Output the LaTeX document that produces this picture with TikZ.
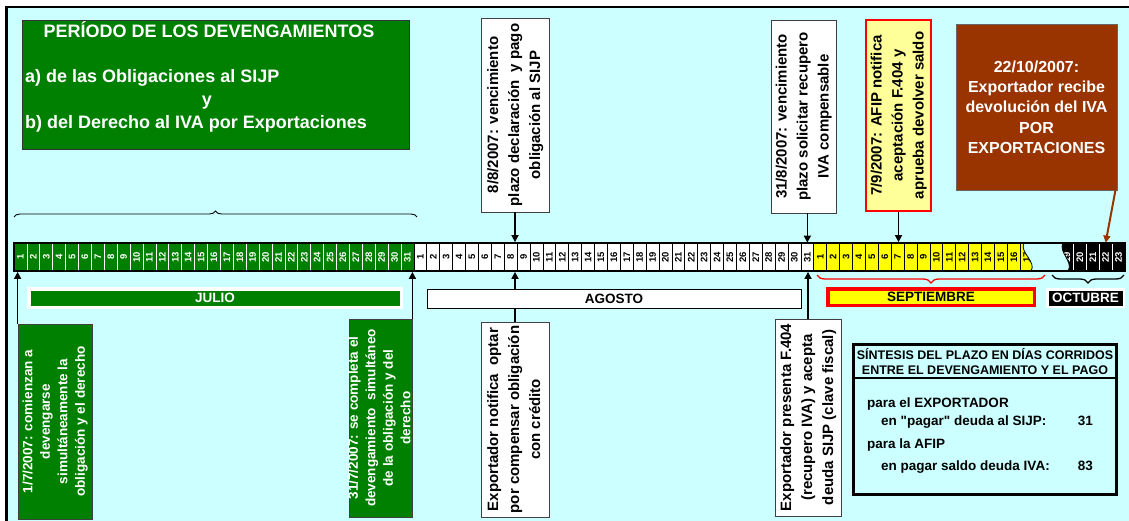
\documentclass[tikz,border=0pt]{standalone}
\usepackage{fontspec}
\setmainfont{Liberation Sans}
\usepackage{graphicx}
\usetikzlibrary{decorations.pathreplacing,arrows.meta,calc}
\definecolor{bgcyan}{HTML}{CCFFFF}
\definecolor{dgreen}{HTML}{008000}
\definecolor{lyellow}{HTML}{FFFF99}
\definecolor{brownbox}{HTML}{993300}
\definecolor{sepyellow}{HTML}{FFFF00}
\newcommand{\vtxt}[1]{\makebox[0pt]{\rotatebox{90}{\begin{tabular}{@{}c@{}}#1\end{tabular}}}}
\newcommand{\fsz}[2]{\fontsize{#1}{#2}\selectfont}
\newcommand{\sq}{\XeTeXglyph\XeTeXcharglyph"22\relax}
\tikzset{
  cellbase/.style={minimum width=12.9pt, minimum height=28pt, inner sep=0pt, line width=0.7pt, font=\fsz{9.5}{9.5}\bfseries},
  julcell/.style={cellbase, fill=dgreen, draw=white, text=white},
  augcell/.style={cellbase, fill=white, draw=black, text=black},
  sepcell/.style={cellbase, fill=sepyellow, draw=black, text=black},
  octcell/.style={cellbase, fill=black, draw=white, text=white},
  vbox/.style={inner sep=0pt, line width=0.8pt, font=\fsz{15}{21}\bfseries},
  gbox/.style={vbox, fill=dgreen, draw=black!75, text=white, font=\fsz{13.5}{17.5}\bfseries},
  wbox/.style={vbox, fill=white, draw=black!75},
  arr/.style={line width=1.6pt, -{Triangle[length=7pt,width=7pt]}},
  month/.style={inner sep=0pt, font=\fsz{13.5}{13.5}\bfseries},
  ttl/.style={inner sep=0pt, text=white, font=\fsz{18}{18}\bfseries},
  syn/.style={inner sep=0pt, font=\fsz{13.5}{13.5}\bfseries},
}
\begin{document}
\begin{tikzpicture}[x=1pt,y=-1pt]
\useasboundingbox (0,0) rectangle (1129,521);
\fill[white] (0,0) rectangle (1129,521);
\fill[bgcyan] (6.5,7) rectangle (1129,521);
\draw[line width=2.5pt] (6.5,521) -- (6.5,7) -- (1129,7);

% title box
\node[fill=dgreen, draw=black!80, line width=0.8pt, minimum width=387pt, minimum height=129pt, inner sep=0pt] (titlebox) at (215.5,84.5) {};
\node[ttl, anchor=base] (t1) at (209,38) {PERÍODO DE LOS DEVENGAMIENTOS};
\node[ttl, anchor=base west] (t2) at (25,83) {a) de las Obligaciones al SIJP};
\node[ttl, anchor=base] (t3) at (207,106) {y};
\node[ttl, anchor=base west] (t4) at (25,129) {b) del Derecho al IVA por Exportaciones};

% brace over July
\draw[decorate, decoration={brace, amplitude=6pt}, line width=0.9pt] (14,217) -- (417,217);

% timeline cells
\foreach \d in {1,...,31} {
  \node[julcell] (jul\d) at ({14+(\d-0.5)*12.9},257) {\rotatebox{90}{\d}};
}
\foreach \d in {1,...,31} {
  \node[augcell] (aug\d) at ({14+(31+\d-0.5)*12.9},257) {\rotatebox{90}{\d}};
}
\foreach \d in {1,...,17} {
  \node[sepcell] (sep\d) at ({14+(62+\d-0.5)*12.9},257) {\rotatebox{90}{\d}};
}
\foreach \d in {19,...,23} {
  \node[octcell] (oct\d) at ({1125-(23.5-\d)*12.9},257) {\rotatebox{90}{\d}};
}
% break in the timeline
\fill[bgcyan] (1024,243) .. controls (1019,252) and (1037,262) .. (1031,271) -- (1068,271) .. controls (1074,262) and (1058,252) .. (1063,243) -- cycle;
\draw[line width=0.8pt] (1024,243) .. controls (1019,252) and (1037,262) .. (1031,271);
\draw[line width=0.8pt] (1068,271) .. controls (1074,262) and (1058,252) .. (1063,243);
\node[draw, line width=1.8pt, minimum width=1111pt, minimum height=28pt, inner sep=0pt] (tl) at (569.5,257) {};

% braces below Sept / Oct
\draw[decorate, decoration={brace, amplitude=8pt}, red, line width=1.3pt] (1045,275) -- (817,275);
\draw[decorate, decoration={brace, amplitude=8pt}, line width=1.3pt] (1124,275) -- (1052,275);

% top boxes
\node[wbox, minimum width=68pt, minimum height=194pt] (b88) at (515,115) {\vtxt{8/8/2007: vencimiento\\plazo declaración\ \ y pago\\obligación al SIJP}};
\node[wbox, minimum width=65pt, minimum height=193pt] (b318) at (803.5,116.5) {\vtxt{31/8/2007: vencimiento\\plazo solicitar recupero\\IVA compensable}};
\node[vbox, fill=lyellow, draw=red, line width=2pt, minimum width=65pt, minimum height=191pt] (b79) at (898.5,115.5) {\vtxt{7/9/2007: AFIP notifica\\aceptación F.404 y\\aprueba devolver saldo}};
\node[fill=brownbox, draw=black!60, line width=0.8pt, minimum width=161pt, minimum height=166pt, inner sep=0pt, text=white, align=center, font=\fsz{16}{20.3}\bfseries] (brown) at (1036.5,107) {22/10/2007:\\Exportador recibe\\devolución del IVA\\POR\\EXPORTACIONES};

% bottom boxes
\node[gbox, minimum width=74pt, minimum height=195pt] (b17) at (55,421.5) {\vtxt{1/7/2007: comienzan a\\devengarse\\simultáneamente la\\obligación y el derecho}};
\node[gbox, minimum width=63pt, minimum height=198pt] (b317) at (380.5,418) {\vtxt{31/7/2007: se completa el\\devengamiento\ \ simultáneo\\de la obligación y del\\derecho}};
\node[wbox, minimum width=68pt, minimum height=195pt] (bexp1) at (515,419.5) {\vtxt{Exportador notifica\ \ optar\\por compensar obligación\\con crédito}};
\node[wbox, minimum width=66pt, minimum height=197pt] (bexp2) at (808,417.5) {\vtxt{Exportador presenta F.404\\(recupero IVA) y acepta\\deuda SIJP (clave fiscal)}};

% arrows
\draw[arr] (b88.south) -- (b88.south |- tl.north);
\draw[arr] (aug31.north |- b318.south) -- (aug31.north);
\draw[arr] (b79.south) -- (b79.south |- tl.north);
\draw[arr, draw=brownbox, fill=brownbox, line width=2pt] ([xshift=-2pt]brown.south east) -- (oct22.north);
\draw[arr] (b17.north west) -- (b17.north west |- tl.south);
\draw[arr] (b317.north east) -- (b317.north east |- tl.south);
\draw[arr] (bexp1.north) -- (bexp1.north |- tl.south);
\draw[arr] (bexp2.north) -- (bexp2.north |- tl.south);

% month labels
\node[month, fill=dgreen, draw=white, line width=3.5pt, minimum width=372.5pt, minimum height=18.5pt, text=white] (julio) at (215,298) {JULIO};
\node[month, fill=white, draw=black, line width=1pt, minimum width=374pt, minimum height=19pt] (agosto) at (614,298.5) {AGOSTO};
\node[month, fill=sepyellow, draw=red, line width=3.5pt, minimum width=206.5pt, minimum height=16.5pt] (septiembre) at (931,297) {SEPTIEMBRE};
\node[month, fill=black, draw=white, line width=2.5pt, minimum width=76.5pt, minimum height=17.5pt, text=white] (octubre) at (1085.5,298) {OCTUBRE};

% synthesis box
\node[draw, line width=3pt, minimum width=263pt, minimum height=150pt, inner sep=0pt] (synth) at (985,419.5) {};
\draw[line width=1.2pt] (synth.west |- 0,378) -- (synth.east |- 0,378);
\node[inner sep=0pt, align=center, font=\fsz{12.5}{15}\bfseries] (sh) at (985,361.5) {SÍNTESIS DEL PLAZO EN DÍAS CORRIDOS\\ENTRE EL DEVENGAMIENTO Y EL PAGO};
\node[syn, anchor=base west] (s1) at (867,407) {para el EXPORTADOR};
\node[syn, anchor=base west] (s2) at (881,425) {en \sq pagar\sq{} deuda al SIJP:};
\node[syn, anchor=base east] (s3) at (1093,425) {31};
\node[syn, anchor=base west] (s4) at (867,448) {para la AFIP};
\node[syn, anchor=base west] (s5) at (881,470) {en pagar saldo deuda IVA:};
\node[syn, anchor=base east] (s6) at (1093,470) {83};
\end{tikzpicture}
\end{document}
